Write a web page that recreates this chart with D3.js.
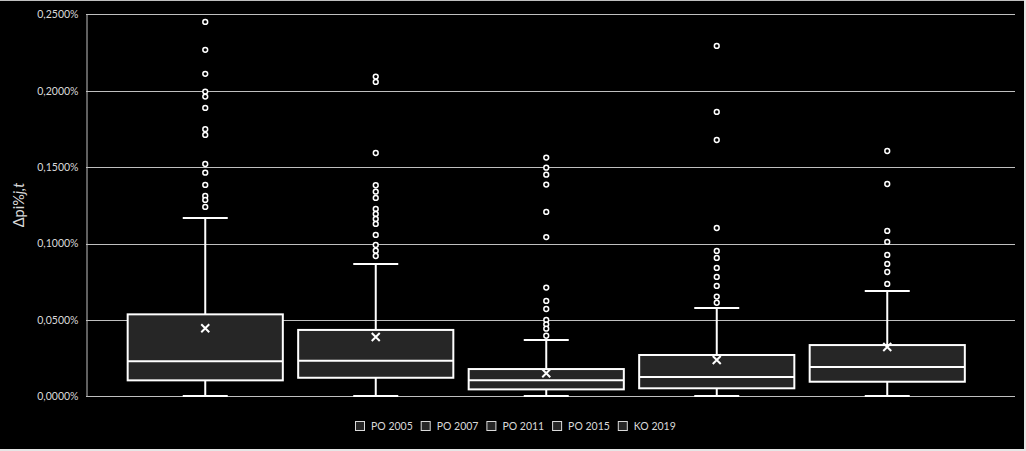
<!DOCTYPE html>
<html>
<head>
<meta charset="utf-8">
<script src="https://cdn.jsdelivr.net/npm/d3@7"></script>
<style>
  html, body { margin: 0; padding: 0; background: #e6e6e6; }
  svg { display: block; }
  text { font-family: Lato, "Open Sans", sans-serif; fill: #d9d9d9; }
</style>
</head>
<body>
<svg id="chart" width="1026" height="451"></svg>
<script>
// ---- data (values in %) ----
const series = ["PO 2005", "PO 2007", "PO 2011", "PO 2015", "KO 2019"];
const q1 = [0.0105, 0.0122, 0.0046, 0.0053, 0.0096];
const median = [0.0230, 0.0234, 0.0105, 0.0127, 0.0192];
const q3 = [0.0537, 0.0435, 0.0179, 0.0271, 0.0336];
const whiskerLow = [0.0003, 0.0003, 0.0003, 0.0003, 0.0003];
const whiskerHigh = [0.1168, 0.0867, 0.0369, 0.0579, 0.0690];
const mean = [0.0446, 0.0389, 0.0151, 0.0238, 0.0323];
const outliers1 = [0.2451, 0.2268, 0.2111, 0.1995, 0.1962, 0.1888, 0.1749, 0.1711, 0.1521, 0.1464, 0.1384, 0.1312, 0.1286, 0.1240];
const outliers2 = [0.2093, 0.2058, 0.1593, 0.1382, 0.1340, 0.1299, 0.1227, 0.1194, 0.1161, 0.1129, 0.1057, 0.0991, 0.0954, 0.0919];
const outliers3 = [0.1563, 0.1497, 0.1451, 0.1386, 0.1207, 0.1043, 0.0712, 0.0625, 0.0572, 0.0500, 0.0472, 0.0443, 0.0397];
const outliers4 = [0.2294, 0.1862, 0.1678, 0.1102, 0.0952, 0.0906, 0.0841, 0.0782, 0.0723, 0.0653, 0.0613];
const outliers5 = [0.1606, 0.1390, 0.1083, 0.1011, 0.0926, 0.0867, 0.0814, 0.0736];
const outliers = [outliers1, outliers2, outliers3, outliers4, outliers5];
const yTicks = [0, 0.05, 0.10, 0.15, 0.20, 0.25];
const yTitle = "Δpi%";
const yTitleSub = "j,t";

// ---- layout ----
const svg = d3.select("#chart");
const plotLeft = 86, plotRight = 1015;
const plotTop = 14.4, plotBottom = 396.4;

svg.append("rect").attr("x", 0).attr("y", 1).attr("width", 1024).attr("height", 448).attr("fill", "#000");
svg.append("line").attr("x1", 0).attr("x2", 1024).attr("y1", 0.5).attr("y2", 0.5).attr("stroke", "#bfbfbf");

const y = d3.scaleLinear().domain([0, 0.25]).range([plotBottom, plotTop]);
const x = d3.scaleBand().domain(series).range([120, 972.5]).paddingInner(0.09).paddingOuter(0.045);

const locale = d3.formatLocale({decimal: ",", thousands: " ", grouping: [3], currency: ["", "€"], percent: "%"});
const fmt = locale.format(".4%");

// gridlines
svg.append("g").selectAll("line").data(yTicks).join("line")
  .attr("x1", plotLeft).attr("x2", plotRight)
  .attr("y1", d => Math.round(y(d)) + 0.5).attr("y2", d => Math.round(y(d)) + 0.5)
  .attr("stroke", "#bfbfbf").attr("stroke-width", 1);

// y axis
const yAxis = d3.axisLeft(y).tickValues(yTicks).tickSize(0).tickPadding(8).tickFormat(d => fmt(d / 100));
const gy = svg.append("g").attr("transform", `translate(${plotLeft + 0.5},0)`).call(yAxis);
gy.select(".domain").attr("stroke", "#bfbfbf");
gy.selectAll("text").attr("font-size", "10.5px").attr("fill", "#d9d9d9").style("font-family", "Lato, sans-serif");

// y title
const yt = svg.append("text")
  .attr("transform", "translate(24,205) rotate(-90)")
  .attr("text-anchor", "middle")
  .attr("font-size", "14.5px");
yt.append("tspan").text(yTitle);
yt.append("tspan").attr("font-style", "italic").text(yTitleSub);

// boxes
const bw = x.bandwidth();
const capW = 45;
const g = svg.append("g");
series.forEach((s, i) => {
  const cx = x(s) + bw / 2;
  const gg = g.append("g");
  gg.append("line").attr("x1", cx).attr("x2", cx).attr("y1", y(q3[i])).attr("y2", y(whiskerHigh[i]))
    .attr("stroke", "#fff").attr("stroke-width", 2);
  gg.append("line").attr("x1", cx).attr("x2", cx).attr("y1", y(q1[i])).attr("y2", y(whiskerLow[i]))
    .attr("stroke", "#fff").attr("stroke-width", 2);
  gg.append("line").attr("x1", cx - capW / 2).attr("x2", cx + capW / 2).attr("y1", y(whiskerHigh[i])).attr("y2", y(whiskerHigh[i]))
    .attr("stroke", "#fff").attr("stroke-width", 2);
  gg.append("line").attr("x1", cx - capW / 2).attr("x2", cx + capW / 2).attr("y1", y(whiskerLow[i])).attr("y2", y(whiskerLow[i]))
    .attr("stroke", "#fff").attr("stroke-width", 2);
  gg.append("rect").attr("x", x(s)).attr("width", bw)
    .attr("y", y(q3[i])).attr("height", y(q1[i]) - y(q3[i]))
    .attr("fill", "#262626").attr("stroke", "#fff").attr("stroke-width", 2);
  gg.append("line").attr("x1", x(s)).attr("x2", x(s) + bw).attr("y1", y(median[i])).attr("y2", y(median[i]))
    .attr("stroke", "#fff").attr("stroke-width", 2);
  const my = y(mean[i]), m = 4;
  gg.append("path").attr("d", `M${cx - m},${my - m}L${cx + m},${my + m}M${cx - m},${my + m}L${cx + m},${my - m}`)
    .attr("stroke", "#fff").attr("stroke-width", 2);
  gg.selectAll("circle").data(outliers[i]).join("circle")
    .attr("cx", cx).attr("cy", d => y(d)).attr("r", 2.4)
    .attr("fill", "#000").attr("stroke", "#fff").attr("stroke-width", 1.5);
});

// legend
const legX = d3.scaleBand().domain(series).range([355, 683.5]);
const leg = svg.append("g").selectAll("g").data(series).join("g")
  .attr("transform", d => `translate(${legX(d)},421)`);
leg.append("rect").attr("x", 0.5).attr("y", 0.5).attr("width", 9).attr("height", 9)
  .attr("fill", "#262626").attr("stroke", "#d9d9d9").attr("stroke-width", 1);
leg.append("text").attr("x", 16).attr("y", 9).attr("font-size", "10.5px").text(d => d);
</script>
</body>
</html>
